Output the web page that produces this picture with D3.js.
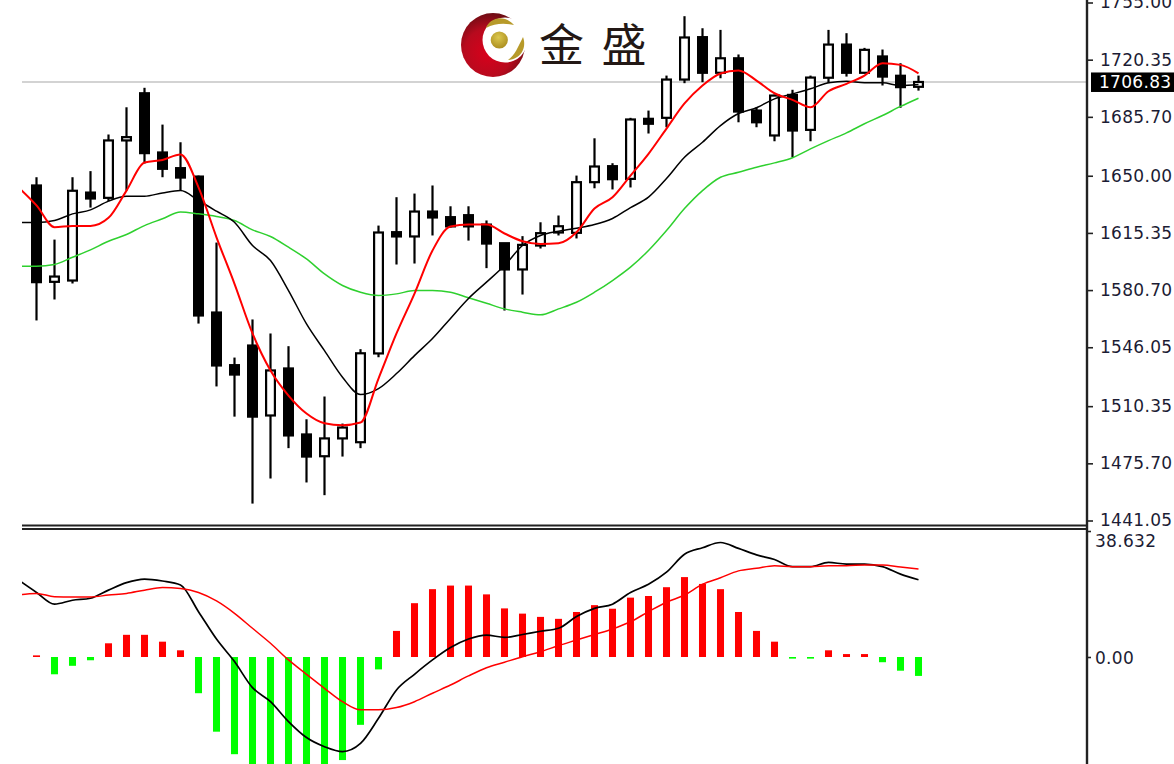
<!DOCTYPE html>
<html><head><meta charset="utf-8">
<style>html,body{margin:0;padding:0;background:#fff;overflow:hidden}svg{display:block}</style>
<script src="https://d3js.org/d3.v7.min.js"></script></head><body>
<script>
// ---- data ----
const candleOpen=[1644.1,1585.7,1586.5,1639.8,1636.6,1671.4,1700,1664.1,1654.6,1649.5,1567.1,1535.2,1547.1,1504.7,1533.2,1493.2,1480,1490.8,1488.5,1542.3,1615.8,1613.2,1628.3,1624.9,1626.1,1620.4,1609.1,1593.2,1607.7,1615.6,1615.4,1646.1,1655.8,1648.1,1684.5,1685.1,1708.3,1734,1712.4,1721.2,1689.5,1674.4,1699,1677.8,1709.4,1729.5,1712.4,1722.3,1710.6,1703.9];
const candleHigh=[1649.1,1611.3,1649.1,1652.8,1675,1691.5,1703.3,1681,1670.3,1650.1,1609.5,1539.8,1562.9,1554.4,1546.7,1502.4,1516.2,1499.8,1544.9,1619.8,1637,1639.2,1644.1,1631.5,1631.5,1622.9,1609.1,1613.4,1621.8,1625.9,1650.1,1672.7,1657.6,1685.1,1689.5,1710.7,1746.7,1739.4,1738.4,1723.5,1691.5,1699.2,1702.1,1710.7,1738.4,1736.4,1727.5,1726.5,1718.2,1710.7];
const candleLow=[1562.3,1575,1584.7,1630.7,1634.6,1641,1657.4,1649.1,1641,1560.4,1522.3,1504,1451.3,1466.5,1484.9,1464.1,1456.4,1479.8,1484.9,1540,1596.2,1596.8,1613.8,1618.6,1610.7,1594,1568.3,1578,1605.9,1613.8,1612,1642.4,1641.7,1642.9,1675.6,1679.4,1706.1,1706.7,1709.1,1682.4,1679.4,1670.9,1661.2,1670.9,1706.1,1710.1,1712.1,1704.7,1691.2,1701.6];
const candleClose=[1585.5,1588.9,1640.9,1636.2,1671.4,1673.4,1663.7,1654.2,1648.9,1565.3,1535,1529.5,1504,1532,1492.6,1479.8,1490.8,1497.4,1542.4,1615.6,1613.2,1628.3,1624.7,1619.3,1619.3,1608.9,1593.2,1608.1,1615.2,1619.4,1646.1,1655.6,1647.9,1684.1,1681.5,1708.3,1733.8,1712.4,1721.2,1688.9,1682.4,1698.6,1677.4,1709.5,1729.5,1712.4,1726.3,1710.1,1703.7,1706.83];
// moving averages start one bar before the first candle (clipped by the plot's left edge)
const maFast=[1642.9,1632,1618.8,1619.6,1619.6,1624.5,1641,1658,1659.6,1662.9,1643,1612.7,1584.5,1554.4,1532,1516.8,1505.9,1500,1498.8,1500.4,1527.1,1554.4,1578.6,1604.7,1619.2,1620.4,1620.4,1615,1610.3,1608.7,1609.1,1615.8,1630.1,1637,1650.1,1663.3,1678.6,1693.8,1704.7,1712,1713.8,1707.7,1700,1696,1691.5,1701.2,1705.7,1710.7,1718.2,1717.2,1712.1];
const maMid=[1621.6,1621.6,1622.9,1626.9,1629.3,1634.6,1637.6,1637.6,1639.6,1641,1635,1628.5,1621.8,1607.7,1598.6,1580.4,1560.2,1544,1527.9,1517.4,1521,1530.1,1541,1551.3,1563.5,1575.6,1585.5,1595.6,1607.7,1613.8,1616.4,1618.2,1620.4,1624.1,1630.7,1637,1648.3,1661.2,1670.3,1680.4,1687.7,1691.2,1696.6,1699.6,1702.7,1706.3,1707.3,1706.3,1706.3,1704.7,1705.3];
const maSlow=[1595.2,1595.2,1596.2,1600.6,1605.1,1610.3,1614.4,1619.8,1623.9,1628.1,1626.9,1625.3,1622.9,1617.2,1613.2,1606.7,1599.6,1590.5,1583.5,1579.4,1577.4,1578.4,1580.4,1580.4,1579.4,1576,1572.7,1569.3,1567.3,1565.7,1569.3,1573.3,1579.4,1586.5,1594.6,1604.7,1616.8,1630.1,1641,1649.1,1652.1,1655.2,1657.8,1660.9,1666.3,1671.3,1676,1681.5,1686.5,1692,1697];
const macdHist=[0.5,-5.3,-2.7,-1,4.2,6.8,6.8,4.7,2.05,-11.1,-22.9,-29.8,-35.3,-38.3,-39.9,-38.3,-33.7,-31.6,-20.8,-3.8,8,16.5,20.8,21.9,21.9,19.2,14.9,13.3,12.3,11.7,13.8,15.9,14.8,18.2,18.7,21.4,24.5,22.4,20.8,13.8,8,4.7,-0.5,-0.5,2.05,0.9,0.9,-1.6,-4.2,-5.8];
const macdLine=[23.6,19.8,16.2,17.4,18,20.5,22.8,23.9,23.3,22.1,13.9,5.5,-1.4,-9.4,-13.7,-19.8,-24.7,-27.5,-29,-26.5,-18.8,-10.1,-5.3,-0.9,2.9,5.5,6.7,6,6.9,7.9,8.8,12.4,14.9,16.2,19.8,22.3,26,31.5,33.5,35.1,33.3,31.3,29.9,27.7,27.7,29,28.5,28.5,27.7,25.4,23.7];
const signalLine=[19,19.5,18.5,18.4,18.4,19,19.5,20.5,21.3,21,19.8,17.2,13.4,8.8,4.2,-0.9,-5.3,-9.6,-13.7,-16.2,-16.2,-15.5,-13.7,-11.1,-8.6,-5.8,-3.3,-1.6,0.1,1.6,3.5,5.2,6.9,8.6,10.8,13.9,16.8,19,22.3,24.3,26.4,27.2,28,27.7,27.7,28,28,28.2,28.2,27.6,27];
const priceTicks=[1755,1720.35,1685.70,1650,1615.35,1580.70,1546.05,1510.35,1475.70,1441.05];
const macdTicks=[38.632,0];
const lastPrice=1706.83;
const brandText=["金","盛"];

// ---- layout ----
const W=1174,H=764,left=22,axisX=1087;
const svg=d3.select("body").append("svg").attr("width",W).attr("height",H).attr("viewBox",`0 0 ${W} ${H}`);
const defs=svg.append("defs");
defs.append("clipPath").attr("id","pricePlot").append("rect").attr("x",left).attr("y",0).attr("width",axisX-left).attr("height",524);
defs.append("clipPath").attr("id","macdPlot").append("rect").attr("x",left).attr("y",530).attr("width",axisX-left).attr("height",H-530);
const soft=defs.append("filter").attr("id","soft");
soft.append("feGaussianBlur").attr("stdDeviation",0.35);
const rg=defs.append("radialGradient").attr("id","logoRed").attr("cx","0.42").attr("cy","0.62").attr("r","0.62");
rg.append("stop").attr("offset","0").attr("stop-color","#d9001b");
rg.append("stop").attr("offset","0.6").attr("stop-color","#b80a1e");
rg.append("stop").attr("offset","1").attr("stop-color","#6e0d14");
const gg=defs.append("radialGradient").attr("id","logoGold").attr("cx","0.45").attr("cy","0.35").attr("r","0.7");
gg.append("stop").attr("offset","0").attr("stop-color","#dcc84e");
gg.append("stop").attr("offset","1").attr("stop-color","#a88a1c");

const x=d3.scaleLinear().domain([0,49]).range([36.5,918.5]);
const y=d3.scaleLinear().domain([1441.05,1755]).range([520.5,2.5]);
const ym=d3.scaleLinear().domain([0,38.632]).range([657,531]);
const bandW=x(1)-x(0);
const bodyW=bandW*0.6, histW=bandW*0.39;

// current price line
svg.append("line").attr("x1",left).attr("x2",axisX).attr("y1",y(lastPrice)).attr("y2",y(lastPrice))
  .attr("stroke","#c4c4c4").attr("stroke-width",1.6);

// price panel
const price=svg.append("g").attr("clip-path","url(#pricePlot)").append("g").attr("filter","url(#soft)");
const bars=d3.range(candleOpen.length);
price.selectAll("line.wick").data(bars).join("line").attr("class","wick")
  .attr("x1",x).attr("x2",x).attr("y1",i=>y(candleHigh[i])).attr("y2",i=>y(candleLow[i]))
  .attr("stroke","#000").attr("stroke-width",2.2);
price.selectAll("rect.body").data(bars).join("rect").attr("class","body")
  .attr("x",i=>x(i)-bodyW/2+1).attr("width",bodyW-2)
  .attr("y",i=>y(Math.max(candleOpen[i],candleClose[i])))
  .attr("height",i=>Math.max(1,Math.abs(y(candleOpen[i])-y(candleClose[i]))))
  .attr("fill",i=>candleClose[i]>=candleOpen[i]?"#fff":"#000")
  .attr("stroke","#000").attr("stroke-width",2.2);

const lineIdx=d3.range(-1,50);
const pl=d3.line().x(i=>x(i)).curve(d3.curveMonotoneX);
function drawPrice(arr,color,w){
  price.append("path").datum(lineIdx).attr("fill","none").attr("stroke",color).attr("stroke-width",w)
   .attr("d",pl.y(i=>y(arr[i+1])));
}
drawPrice(maSlow,"#2fd02f",1.5);
drawPrice(maMid,"#000",1.5);
drawPrice(maFast,"#ff0000",2);

// macd panel
const macd=svg.append("g").attr("clip-path","url(#macdPlot)").append("g").attr("filter","url(#soft)");
macd.selectAll("rect.hist").data(bars).join("rect").attr("class","hist")
  .attr("x",i=>x(i)-histW/2).attr("width",histW)
  .attr("y",i=>macdHist[i]>=0?ym(macdHist[i]):ym(0))
  .attr("height",i=>Math.max(1.6,Math.abs(ym(macdHist[i])-ym(0))))
  .attr("fill",i=>macdHist[i]>=0?"#ff0000":"#00ff00");
function drawMacd(arr,color,w){
  macd.append("path").datum(lineIdx).attr("fill","none").attr("stroke",color).attr("stroke-width",w)
   .attr("d",pl.y(i=>ym(arr[i+1])));
}
drawMacd(macdLine,"#000",1.7);
drawMacd(signalLine,"#ff0000",1.5);

// frame
[525.5,529].forEach(v=>svg.append("line").attr("x1",left).attr("x2",axisX).attr("y1",v).attr("y2",v)
  .attr("stroke","#222").attr("stroke-width",2));
svg.append("line").attr("x1",axisX).attr("x2",axisX).attr("y1",0).attr("y2",H).attr("stroke","#222").attr("stroke-width",2.4);

// axes
const axisFont="'DejaVu Sans',sans-serif";
function styleAxis(g){
  g.select(".domain").remove();
  g.selectAll(".tick line").attr("stroke","#222").attr("stroke-width",1.6);
  g.selectAll(".tick text").attr("fill","#1c1c34").attr("font-family",axisFont).attr("font-size",17).attr("letter-spacing",0.3);
}
const fmt=d=>d.toFixed(2);
svg.append("g").attr("transform",`translate(${axisX},0)`)
  .call(d3.axisRight(y).tickValues(priceTicks).tickFormat(fmt).tickSize(6).tickPadding(7))
  .call(styleAxis);
svg.append("g").attr("transform",`translate(${axisX},0)`)
  .call(d3.axisRight(ym).tickValues(macdTicks).tickFormat(d=>d===0?"0.00":String(d)).tickSize(4).tickPadding(4))
  .call(styleAxis)
  .call(g=>g.selectAll(".tick text").attr("dy",d=>d===0?"0.36em":"0.9em"));

// last price tag
svg.append("rect").attr("x",1091).attr("y",y(lastPrice)-9.5).attr("width",W-1091).attr("height",19.5).attr("fill","#000");
svg.append("text").attr("x",1099).attr("y",y(lastPrice)).attr("dy","0.38em").attr("fill","#fff")
  .attr("font-family",axisFont).attr("font-size",17).attr("letter-spacing",0.3).text(lastPrice.toFixed(2));

// brand mark
const logo=svg.append("g");
logo.append("circle").attr("cx",493).attr("cy",45).attr("r",32).attr("fill","url(#logoRed)");
logo.append("circle").attr("cx",505).attr("cy",40).attr("r",22.5).attr("fill","#fff");
logo.append("circle").attr("cx",499.3).attr("cy",40).attr("r",8.6).attr("fill","url(#logoGold)");
logo.append("path").attr("fill","#b79a2a").attr("d","M486,28 C489,19 503,13 514,25 C505,23 495,23 486,28 Z");
logo.append("path").attr("fill","#b79a2a").attr("d","M508,60 C515,55 518,47 523,37 C527,48 521,59 508,60 Z");
brandText.forEach((t,i)=>svg.append("text").attr("x",[561.5,624][i]).attr("y",62).attr("text-anchor","middle")
  .attr("font-family","'Noto Sans CJK SC',sans-serif").attr("font-size",45).attr("fill","#231815").text(t));
</script>
</body></html>
